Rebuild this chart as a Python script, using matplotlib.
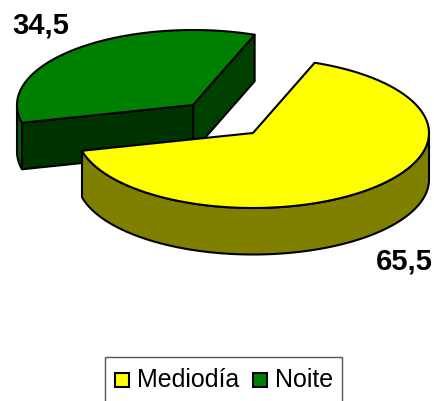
import numpy as np
import matplotlib
matplotlib.use("Agg")
import matplotlib.pyplot as plt
from matplotlib.patches import Polygon, Rectangle

categories = ["Mediodía", "Noite"]
values = [65.5, 34.5]
value_labels = ["65,5", "34,5"]
top_colors = ["#FFFF00", "#008000"]
rim_colors = ["#808000", "#006000"]
cut_colors = ["#808000", "#004000"]
front_colors = ["#808000", "#003300"]

plt.rcParams["font.family"] = ["Liberation Sans", "DejaVu Sans"]

W, H = 435, 401
fig = plt.figure(figsize=(W / 100, H / 100), dpi=100)
ax = fig.add_axes([0, 0, 1, 1])
ax.set_xlim(0, W)
ax.set_ylim(H, 0)
ax.axis("off")

A, B, DEPTH = 176.0, 75.0, 46.5
START = 69.5
centers = [(253.0, 133.0), (193.0, 105.0)]
LW = 1.5


def ell(c, deg):
    t = np.radians(deg)
    return np.column_stack([c[0] + A * np.cos(t), c[1] - B * np.sin(t)])


def poly(pts, color, z):
    ax.add_patch(Polygon(pts, closed=True, facecolor=color, edgecolor="black",
                         lw=LW, joinstyle="round", zorder=z))


total = sum(values)
spans = [v / total * 360 for v in values]
down = np.array([0, DEPTH])

# Noite: counter-clockwise from START
c = centers[1]
a0, a1 = START, START + spans[1]
arc = ell(c, np.linspace(a0, a1, 120))
apex = np.array([c])
p_start, p_end = arc[0], arc[-1]
poly([apex[0], p_start, p_start + down, apex[0] + down], cut_colors[1], 2)
rim = ell(c, np.linspace(180, a1, 30))
poly(np.vstack([rim, (rim + down)[::-1]]), rim_colors[1], 2)
poly([apex[0], p_end, p_end + down, apex[0] + down], front_colors[1], 3)
poly(np.vstack([apex, arc]), top_colors[1], 4)

# Mediodía: clockwise from START
c = centers[0]
a0, a1 = START, START - spans[0]
arc = ell(c, np.linspace(a0, a1, 200))
apex = np.array([c])
rim = ell(c, np.linspace(a1, 0, 200))
poly(np.vstack([rim, (rim + down)[::-1]]), rim_colors[0], 5)
poly(np.vstack([apex, arc]), top_colors[0], 6)

# value labels
ax.text(12, 33, value_labels[1], fontsize=21, fontweight="bold", ha="left", va="baseline", zorder=9)
ax.text(376, 270, value_labels[0], fontsize=21, fontweight="bold", ha="left", va="baseline", zorder=9)

# legend
ax.add_patch(Rectangle((105, 357), 237, 60, fill=False, ec="#555555", lw=1.0))
for x, col, lab, tx in [(115, top_colors[0], categories[0], 137), (253, top_colors[1], categories[1], 275)]:
    ax.add_patch(Rectangle((x, 373), 14, 14, fc=col, ec="black", lw=1.5))
    ax.text(tx, 387, lab, fontsize=18, ha="left", va="baseline")

fig.savefig("out.png", dpi=100)
